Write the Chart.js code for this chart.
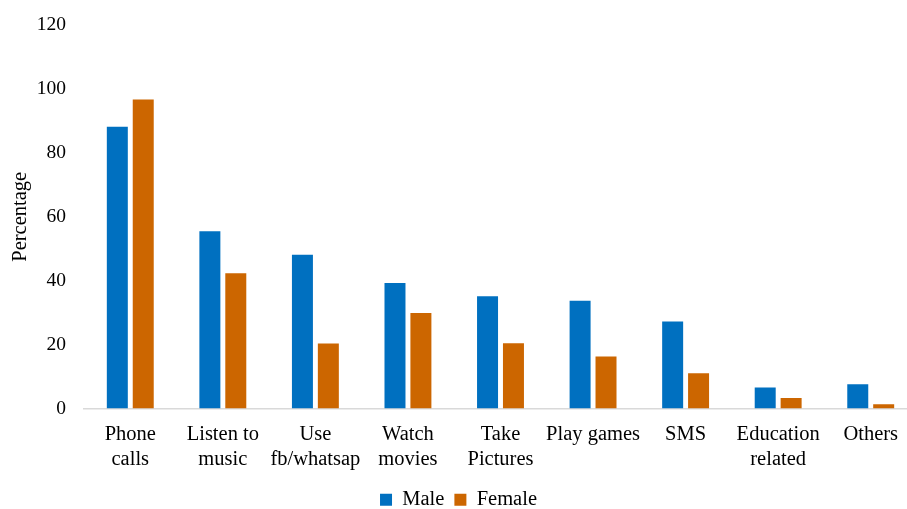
<!DOCTYPE html>
<html>
<head>
<meta charset="utf-8">
<script src="https://cdn.jsdelivr.net/npm/chart.js@4/dist/chart.umd.min.js"></script>
<style>
  html, body { margin: 0; padding: 0; background: #fff; overflow: hidden; }
  #wrap { width: 920px; height: 509px; }
</style>
</head>
<body>
<div id="wrap"><canvas id="usageChart" width="920" height="509"></canvas></div>
<script>
// Phone usage by gender (percentage)
const categories = [
  ['Phone', 'calls'], ['Listen to', 'music'], ['Use', 'fb/whatsap'], ['Watch', 'movies'],
  ['Take', 'Pictures'], 'Play games', 'SMS', ['Education', 'related'], 'Others'
];
const maleValues   = [88.2, 55.5, 48.1, 39.3, 35.1, 33.7, 27.2, 6.6, 7.6];
const femaleValues = [96.7, 42.3, 20.3, 29.9, 20.4, 16.3, 11.0, 3.3, 1.3];
const yTicks = [0, 20, 40, 60, 80, 100, 120];

const FONT = "'Liberation Serif', 'Times New Roman', serif";
const COLORS = { male: '#0070C0', female: '#CC6600' };

const ctx = document.getElementById('usageChart');

new Chart(ctx, {
  type: 'bar',
  data: {
    labels: categories,
    datasets: [
      {
        label: 'Male',
        data: maleValues,
        backgroundColor: COLORS.male,
        categoryPercentage: 0.56,
        barPercentage: 0.81,
      },
      {
        label: 'Female',
        data: femaleValues,
        backgroundColor: COLORS.female,
        categoryPercentage: 0.56,
        barPercentage: 0.81,
      },
    ],
  },
  options: {
    responsive: false,
    animation: false,
    layout: { padding: { top: 25, right: 3, bottom: -11, left: 0 } },
    plugins: {
      tooltip: { enabled: false },
      legend: {
        position: 'bottom',
        labels: {
          color: '#000',
          boxWidth: 12,
          boxHeight: 12,
          padding: 10,
          font: { family: FONT, size: 20.5 },
        },
      },
    },
    scales: {
      x: {
        afterFit: (scale) => { scale.height = 71; },
        grid: { display: false, drawTicks: false },
        border: { color: '#d9d9d9', width: 1.5 },
        ticks: {
          color: '#000',
          maxRotation: 0,
          autoSkip: false,
          padding: 14,
          font: { family: FONT, size: 20.5 },
        },
      },
      y: {
        min: 0,
        max: 120,
        afterBuildTicks: (scale) => { scale.ticks = yTicks.map(v => ({ value: v })); },
        afterFit: (scale) => {
          scale.width = 84;
          scale.paddingTop = 0;
          scale.paddingBottom = 0;
        },
        grid: { display: false, drawTicks: false },
        border: { display: false },
        title: {
          display: true,
          text: 'Percentage',
          color: '#000',
          padding: { top: 8, bottom: 4 },
          font: { family: FONT, size: 20.5 },
        },
        ticks: {
          color: '#000',
          padding: 18,
          font: { family: FONT, size: 19.5 },
        },
      },
    },
  },
});
</script>
</body>
</html>
